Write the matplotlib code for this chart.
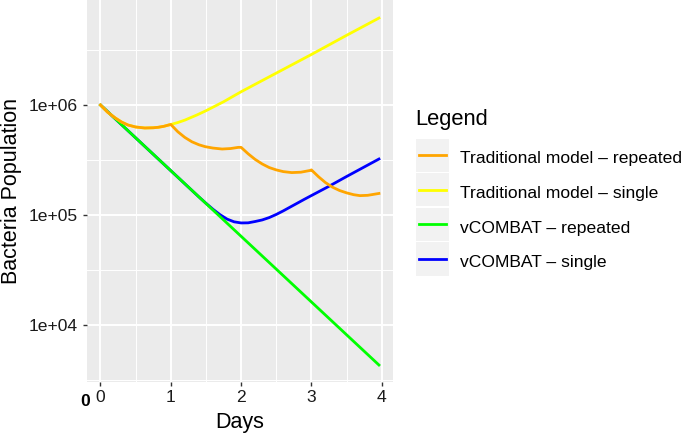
import matplotlib
matplotlib.use('Agg')
import matplotlib.pyplot as plt
from matplotlib.patches import Rectangle
from matplotlib.lines import Line2D
from matplotlib.ticker import FixedLocator, NullFormatter

plt.rcParams['font.family'] = ['Liberation Sans', 'DejaVu Sans']

# Traditional model - repeated dosing
trad_rep_days = [0, 0.1, 0.21, 0.3, 0.39, 0.5, 0.63, 0.75, 0.82, 0.9, 0.97, 1.0,
                 1.1, 1.2, 1.3, 1.4, 1.49, 1.6, 1.73, 1.85, 1.96, 2.0,
                 2.1, 2.2, 2.3, 2.4, 2.5, 2.6, 2.72, 2.85, 2.98, 3.0,
                 3.1, 3.2, 3.3, 3.4, 3.5, 3.6, 3.69, 3.8, 3.96]
trad_rep_pop = [1.0e6, 8.61e5, 7.62e5, 7.0e5, 6.58e5, 6.31e5, 6.18e5, 6.21e5, 6.27e5, 6.40e5, 6.58e5, 6.65e5,
                5.71e5, 5.07e5, 4.63e5, 4.35e5, 4.18e5, 4.06e5, 3.98e5, 4.02e5, 4.12e5, 4.12e5,
                3.60e5, 3.20e5, 2.91e5, 2.70e5, 2.57e5, 2.48e5, 2.43e5, 2.45e5, 2.54e5, 2.57e5,
                2.23e5, 1.97e5, 1.79e5, 1.67e5, 1.59e5, 1.53e5, 1.50e5, 1.51e5, 1.57e5]

# Traditional model - single dose
trad_single_days = [0, 0.1, 0.21, 0.3, 0.39, 0.5, 0.63, 0.75, 0.82, 0.9, 0.97, 1.0,
                    1.1, 1.2, 1.37, 1.5, 1.75, 2.0, 2.27, 2.5, 3.0, 3.5, 3.96]
trad_single_pop = [1.0e6, 8.61e5, 7.62e5, 7.0e5, 6.58e5, 6.31e5, 6.18e5, 6.21e5, 6.27e5, 6.40e5, 6.58e5, 6.65e5,
                   6.93e5, 7.29e5, 8.11e5, 8.87e5, 1.07e6, 1.32e6, 1.63e6, 1.95e6, 2.88e6, 4.30e6, 6.17e6]

# vCOMBAT - repeated
vc_rep_days = [0, 3.96]
vc_rep_pop = [1.0e6, 4.33e3]

# vCOMBAT - single
vc_single_days = [0, 1.4, 1.5, 1.6, 1.7, 1.8, 1.9, 2.0, 2.1, 2.2, 2.3, 2.4, 2.5, 2.6, 2.7,
                  2.8, 2.9, 3.0, 3.24, 3.5, 3.96]
vc_single_pop = [1.0e6, 1.459e5, 1.279e5, 1.127e5, 1.007e5, 9.18e4, 8.67e4, 8.47e4, 8.49e4, 8.73e4,
                 9.02e4, 9.48e4, 1.012e5, 1.091e5, 1.183e5, 1.282e5, 1.39e5, 1.503e5, 1.811e5,
                 2.239e5, 3.228e5]

legend_labels = ['Traditional model \u2013 repeated', 'Traditional model \u2013 single',
                 'vCOMBAT \u2013 repeated', 'vCOMBAT \u2013 single']
legend_colors = ['#FFA500', '#FFFF00', '#00FF00', '#0000FF']

W, H = 685, 436


def fx(x):
    return x / W


def fy(y):
    return 1 - y / H


fig = plt.figure(figsize=(W / 100, H / 100), dpi=100)
ax = fig.add_axes([fx(87), fy(382), fx(393) - fx(87), fy(0) - fy(382)])
ax.set_facecolor('#EBEBEB')
ax.set_yscale('log')

ax.plot(vc_single_days, vc_single_pop, color=legend_colors[3], lw=2.0, zorder=3)
ax.plot(vc_rep_days, vc_rep_pop, color=legend_colors[2], lw=2.0, zorder=4)
ax.plot(trad_single_days, trad_single_pop, color=legend_colors[1], lw=2.0, zorder=5)
ax.plot(trad_rep_days, trad_rep_pop, color=legend_colors[0], lw=2.0, zorder=6)

ax.set_xlim(-0.192, 4.16)
ax.set_ylim(10 ** 3.482, 10 ** 6.9545)

ax.set_xticks([0, 1, 2, 3, 4])
ax.set_xticklabels(['0', '1', '2', '3', '4'])
ax.xaxis.set_minor_locator(FixedLocator([0.5, 1.5, 2.5, 3.5]))
ax.set_yticks([1e4, 1e5, 1e6])
ax.set_yticklabels(['1e+04', '1e+05', '1e+06'])
ax.yaxis.set_minor_locator(FixedLocator([10 ** 3.5, 10 ** 4.5, 10 ** 5.5, 10 ** 6.5]))
ax.yaxis.set_minor_formatter(NullFormatter())

ax.grid(which='major', color='white', lw=1.4)
ax.grid(which='minor', color='white', lw=0.7)
ax.set_axisbelow(True)
for s in ax.spines.values():
    s.set_visible(False)

ax.tick_params(which='major', length=3, width=1, color='#333333', labelsize=12.6,
               labelcolor='#1a1a1a')
ax.tick_params(axis='x', pad=3)
ax.tick_params(axis='y', pad=3.6)
ax.tick_params(which='minor', length=0)

fig.text(fx(240), fy(428), 'Days', ha='center', va='baseline', fontsize=15.5, color='black')
fig.text(fx(12), fy(191), 'Bacteria Population', ha='center', va='center', rotation=90,
         fontsize=15.5, color='black')
fig.text(fx(85), fy(406), '0', ha='center', va='baseline', fontsize=12.6, fontweight='bold',
         color='black')

# legend drawn by hand to mimic ggplot keys
fig.text(fx(415), fy(125), 'Legend', ha='left', va='baseline', fontsize=15.8, color='black')
key_tops = [139, 173.5, 208, 242.5]
for top, lab, col in zip(key_tops, legend_labels, legend_colors):
    fig.add_artist(Rectangle((fx(416), fy(top + 33)), fx(449) - fx(416), fy(top) - fy(top + 33),
                             transform=fig.transFigure, facecolor='#F2F2F2', edgecolor='none'))
    cy = top + 16.5
    fig.add_artist(Line2D([fx(419), fx(446)], [fy(cy), fy(cy)], transform=fig.transFigure,
                          color=col, lw=2.0))
    fig.text(fx(460), fy(top + 24.5), lab, ha='left', va='baseline', fontsize=12.6, color='black')

fig.savefig('out.png', dpi=100)
